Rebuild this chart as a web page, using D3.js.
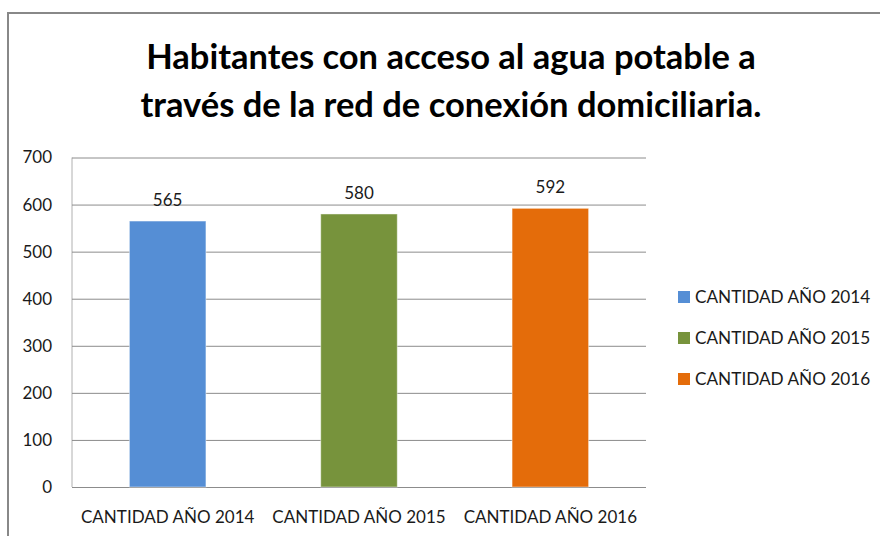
<!DOCTYPE html>
<html>
<head>
<meta charset="utf-8">
<script src="https://cdn.jsdelivr.net/npm/d3@7"></script>
<style>
  body { margin: 0; background: #fff; }
  svg { display: block; font-family: Lato, "Open Sans", sans-serif; }
</style>
</head>
<body>
<div id="chart"></div>
<script>
const titleLines = ["Habitantes con acceso al agua potable a", "través de la red de conexión domiciliaria."];
const categories = ["CANTIDAD AÑO 2014", "CANTIDAD AÑO 2015", "CANTIDAD AÑO 2016"];
const values = [565, 580, 592];
const colors = ["#558ED5", "#77933C", "#E46C0A"];
const yTicks = [0, 100, 200, 300, 400, 500, 600, 700];

const width = 880;
const height = 536;
const plot = { left: 72, right: 646, top: 157.5, bottom: 487 };

const svg = d3.select("#chart")
  .append("svg")
    .attr("width", width)
    .attr("height", height);

// chart frame (only top and left edges are visible in the picture)
svg.append("rect")
  .attr("x", 8)
  .attr("y", 13)
  .attr("width", 1000)
  .attr("height", 1000)
  .attr("fill", "none")
  .attr("stroke", "#888")
  .attr("stroke-width", 2);

// title
svg.append("g")
    .attr("class", "title")
  .selectAll("text")
  .data(titleLines)
  .join("text")
    .attr("x", 451)
    .attr("y", (d, i) => 69 + i * 48)
    .attr("text-anchor", "middle")
    .style("font-size", "34.5px")
    .style("font-weight", "bold")
    .attr("fill", "#000")
    .text(d => d);

const xScale = d3.scaleBand()
  .domain(categories)
  .range([plot.left, plot.right])
  .paddingInner(0.6)
  .paddingOuter(0.3);

const yScale = d3.scaleLinear()
  .domain([0, 700])
  .range([plot.bottom, plot.top]);

// gridlines + y labels
const leftAxis = d3.axisLeft(yScale)
  .tickValues(yTicks)
  .tickSize(-(plot.right - plot.left))
  .tickPadding(20);
const yAxis = svg.append("g")
    .attr("class", "axis axis-y")
    .attr("transform", `translate(${plot.left}, 0)`)
    .call(leftAxis);
yAxis.select(".domain")
  .attr("stroke", "#b0b0b0")
  .attr("d", `M0,${plot.top}V${plot.bottom}`);
yAxis.selectAll(".tick line").attr("stroke", "#8c8c8c");
yAxis.selectAll(".tick text")
  .attr("fill", "#1a1a1a")
  .style("font-size", "17px")
  .style("font-family", "Lato, sans-serif");

// bars
svg.append("g")
    .attr("class", "bars")
  .selectAll("rect")
  .data(values)
  .join("rect")
    .attr("x", (d, i) => xScale(categories[i]))
    .attr("y", d => yScale(d))
    .attr("width", xScale.bandwidth())
    .attr("height", d => yScale(0) - yScale(d))
    .attr("fill", (d, i) => colors[i])
    .attr("stroke", "rgba(255,255,255,0.45)")
    .attr("stroke-width", 1);

// value labels
svg.append("g")
    .attr("class", "labels")
  .selectAll("text")
  .data(values)
  .join("text")
    .attr("x", (d, i) => xScale(categories[i]) + xScale.bandwidth() / 2)
    .attr("y", d => yScale(d) - 15)
    .attr("text-anchor", "middle")
    .attr("fill", "#1a1a1a")
    .style("font-size", "17px")
    .text(d => d);

// x labels
const bottomAxis = d3.axisBottom(xScale)
  .tickSize(0)
  .tickPadding(24);
const xAxis = svg.append("g")
    .attr("class", "axis axis-x")
    .attr("transform", `translate(0, ${plot.bottom})`)
    .call(bottomAxis);
xAxis.select(".domain").remove();
xAxis.selectAll(".tick text")
  .attr("fill", "#1a1a1a")
  .style("font-size", "17px")
  .style("font-family", "Lato, sans-serif");

// legend
const legend = svg.append("g")
    .attr("class", "legend")
    .attr("transform", "translate(678, 297)");
const legendItems = legend.selectAll("g")
  .data(categories)
  .join("g")
    .attr("transform", (d, i) => `translate(0, ${i * 41})`);
legendItems.append("rect")
  .attr("x", 0)
  .attr("y", -6)
  .attr("width", 12)
  .attr("height", 12)
  .attr("fill", (d, i) => colors[i]);
legendItems.append("text")
  .attr("x", 17)
  .attr("y", 0)
  .attr("dy", "0.36em")
  .attr("fill", "#1a1a1a")
  .style("font-size", "17.2px")
  .text(d => d);
</script>
</body>
</html>
